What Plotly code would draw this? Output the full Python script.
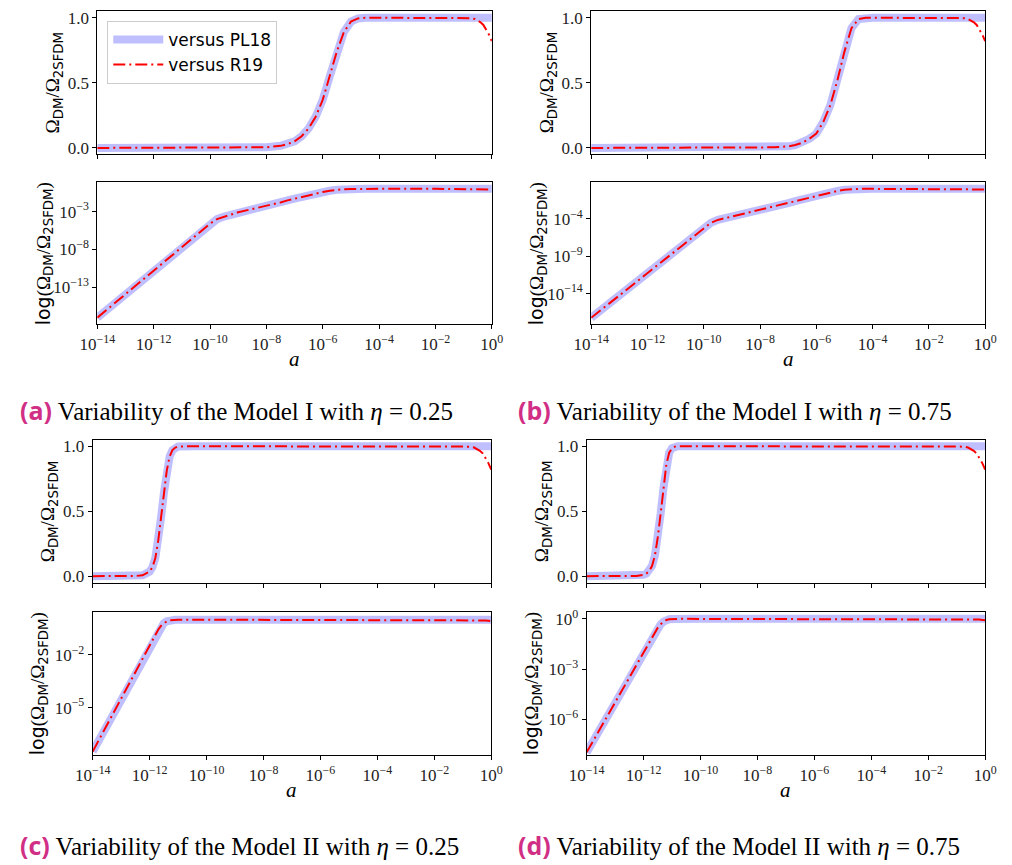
import plotly.graph_objects as go

# ---------------- data ----------------
# log10(a) grid and Omega_DM/Omega_2SFDM for each panel (PL18 reference curve, up to a = 0.1)
log_a_I25 = [-14, -13, -12, -11, -10.5, -10, -9.75, -9.5, -9.25, -9, -8.5, -8, -7.5, -7.25, -7,
             -6.75, -6.5, -6.25, -6, -5.75, -5.5, -5.25, -5, -4.75, -4.5, -4, -3, -2]
ratio_I25 = [1e-17, 1.3e-14, 1.6e-11, 2e-8, 7e-7, 2.5e-5, 1.0e-4, 2.2e-4, 4e-4, 8e-4, 2.2e-3, 5e-3,
             0.016, 0.03, 0.05, 0.09, 0.15, 0.24, 0.37, 0.55, 0.74, 0.89, 0.97, 0.995, 1.0, 1.0, 1.0, 1.0]

log_a_I75 = [-14, -13, -12, -11, -10.5, -10, -9.75, -9.5, -9.25, -9, -8.5, -8, -7.5, -7, -6.75,
             -6.5, -6.25, -6, -5.75, -5.5, -5.25, -5, -4.75, -4.5, -4.25, -4, -3, -2]
ratio_I75 = [6e-18, 6e-15, 6e-12, 6e-9, 2e-7, 6e-6, 2.8e-5, 7e-5, 1.1e-4, 2e-4, 5.6e-4, 1.6e-3,
             4.5e-3, 0.012, 0.022, 0.04, 0.07, 0.11, 0.2, 0.33, 0.52, 0.74, 0.92, 0.99, 1.0, 1.0, 1.0, 1.0]

log_a_II25 = [-14, -13.5, -13, -12.5, -12.25, -12, -11.9, -11.8, -11.7, -11.6, -11.5, -11.4, -11.3,
              -11.2, -11.1, -11, -10.5, -10, -8, -6, -4, -2]
ratio_II25 = [3.2e-8, 1e-6, 3.5e-5, 1.1e-3, 6.3e-3, 0.035, 0.07, 0.14, 0.27, 0.45, 0.64, 0.81, 0.92,
              0.97, 0.99, 0.998, 1.0, 1.0, 1.0, 1.0, 1.0, 1.0]

log_a_II75 = [-14, -13.5, -13, -12.5, -12.25, -12, -11.9, -11.8, -11.7, -11.6, -11.5, -11.4, -11.3,
              -11.2, -11.1, -11, -10.9, -10.8, -10.5, -10, -8, -6, -4, -2]
ratio_II75 = [1.1e-8, 3.5e-7, 1.1e-5, 3.5e-4, 2e-3, 0.01, 0.02, 0.04, 0.08, 0.16, 0.3, 0.48, 0.68,
              0.86, 0.95, 0.985, 0.997, 1.0, 1.0, 1.0, 1.0, 1.0, 1.0, 1.0]

# late-time tail (a from 0.1 to 1), shared by all panels
log_a_tail = [-1, -0.75, -0.6, -0.5, -0.4, -0.3, -0.2, -0.1, 0]
tail_pl18 = [1.0, 1.0, 1.0, 1.0, 1.0, 1.0, 1.0, 1.0, 1.0]
tail_r19 = [1.0, 0.997, 0.99, 0.98, 0.965, 0.945, 0.91, 0.87, 0.82]

series_names = ["versus PL18", "versus R19"]
captions = [("(a)", "Variability of the Model I with <i>η</i> = 0.25"),
            ("(b)", "Variability of the Model I with <i>η</i> = 0.75"),
            ("(c)", "Variability of the Model II with <i>η</i> = 0.25"),
            ("(d)", "Variability of the Model II with <i>η</i> = 0.75")]
x_tick_exps = [-14, -12, -10, -8, -6, -4, -2, 0]
lin_ticks = [0.0, 0.5, 1.0]
log_tick_exps = [[-3, -8, -13], [-4, -9, -14], [-2, -5], [0, -3, -6]]

panels = [(log_a_I25, ratio_I25), (log_a_I75, ratio_I75),
          (log_a_II25, ratio_II25), (log_a_II75, ratio_II75)]

# ---------------- layout geometry ----------------
W, H = 1012, 865
x_px = [(81.7, 488.3), (590.7, 996.7), (77.0, 487.7), (586.0, 996.7)]
row_top_px = [(5.3, 150.0), (438.3, 582.7)]
row_bot_px = [(178.3, 321.7), (612.7, 757.3)]
log_ranges = [[-17.88, 0.84], [-18.1, 0.85], [-7.72, 0.42], [-8.14, 0.39]]

BLUE = "rgb(191,191,255)"
RED = "#ff0000"
RED_DASH = "12px,4px,2px,4px"
SERIF = "Liberation Serif"
SANS = "DejaVu Sans"


def sup_minus(e):
    return "10<sup>" + (("\u2212" + str(-e)) if e < 0 else str(e)) + "</sup>"


fig = go.Figure()
layout = dict(width=W, height=H, autosize=False, margin=dict(l=0, r=0, t=0, b=0),
              paper_bgcolor="white", plot_bgcolor="white", showlegend=True)
annotations = []

axis_common = dict(showline=True, linecolor="black", linewidth=1, mirror=True,
                   ticks="outside", ticklen=4, tickwidth=1, tickcolor="black",
                   showgrid=False, zeroline=False,
                   tickfont=dict(family=SERIF, size=17, color="#222222"))

for p, (la, rv) in enumerate(panels):
    col = p % 2
    row = p // 2
    xa = [10 ** v for v in la + log_a_tail]
    y_pl18 = rv + tail_pl18
    y_r19 = rv + tail_r19
    x0, x1 = x_px[p]
    xdom = [x0 / W, x1 / W]
    for k, (ypix, kind) in enumerate([(row_top_px[row], "lin"), (row_bot_px[row], "log")]):
        idx = p * 2 + k + 1
        xname = "xaxis" if idx == 1 else f"xaxis{idx}"
        yname = "yaxis" if idx == 1 else f"yaxis{idx}"
        xref = "x" if idx == 1 else f"x{idx}"
        yref = "y" if idx == 1 else f"y{idx}"
        ydom = [1 - ypix[1] / H, 1 - ypix[0] / H]
        xaxis = dict(axis_common, domain=xdom, anchor=yref, type="log", range=[-14, 0],
                     tickvals=[10 ** e for e in x_tick_exps],
                     ticktext=[sup_minus(e) for e in x_tick_exps],
                     showticklabels=(kind == "log"))
        if kind == "lin":
            yaxis = dict(axis_common, domain=ydom, anchor=xref, type="linear", range=[-0.05, 1.05],
                         tickvals=lin_ticks, ticktext=[f"{v:.1f}" for v in lin_ticks])
        else:
            yaxis = dict(axis_common, domain=ydom, anchor=xref, type="log", range=log_ranges[p],
                         tickvals=[10 ** e for e in log_tick_exps[p]],
                         ticktext=[sup_minus(e) for e in log_tick_exps[p]])
        layout[xname] = xaxis
        layout[yname] = yaxis
        show_leg = (p == 0 and k == 0)
        fig.add_trace(go.Scatter(x=xa, y=y_pl18, mode="lines", name=series_names[0],
                                 line=dict(color=BLUE, width=8), xaxis=xref, yaxis=yref,
                                 showlegend=show_leg, hoverinfo="skip"))
        fig.add_trace(go.Scatter(x=xa, y=y_r19, mode="lines", name=series_names[1],
                                 line=dict(color=RED, width=2, dash=RED_DASH), xaxis=xref, yaxis=yref,
                                 showlegend=show_leg, hoverinfo="skip"))

        # y-axis title
        ycen = (ypix[0] + ypix[1]) / 2
        om = f'<span style="font-family:{SERIF}">Ω</span>'
        core = f'{om}<sub>DM</sub><span style="font-family:{SERIF}">/</span>{om}<sub>2SFDM</sub>'
        if kind == "lin":
            txt = core
            xt = x0 - 45
        else:
            txt = "log" + f'<span style="font-family:{SERIF}">(</span>' + core + f'<span style="font-family:{SERIF}">)</span>'
            xt = x0 - 55
        annotations.append(dict(text=txt, x=xt / W, y=1 - ycen / H, xref="paper", yref="paper",
                                xanchor="center", yanchor="middle", textangle=-90, showarrow=False,
                                font=dict(family=SANS, size=19, color="black")))
    # x title
    ybot = row_bot_px[row][1]
    annotations.append(dict(text="<i>a</i>", x=(x0 + x1) / 2 / W, y=1 - (ybot + 35) / H,
                            xref="paper", yref="paper", xanchor="center", yanchor="middle",
                            showarrow=False, font=dict(family=SERIF, size=21, color="black")))
    # caption
    lab, cap = captions[p]
    cap_x = 0 if col == 0 else 513
    cap_y = 408 if row == 0 else 848
    annotations.append(dict(
        text=f'<span style="font-family:Open Sans;color:#d12f85"><b>{lab}</b></span> {cap}',
        x=cap_x / W, y=1 - cap_y / H, xref="paper", yref="paper", xanchor="left", yanchor="middle",
        showarrow=False, font=dict(family=SERIF, size=25, color="black")))

layout["annotations"] = annotations
layout["legend"] = dict(x=92 / W, y=1 - 15 / H, xanchor="left", yanchor="top",
                        bgcolor="rgba(255,255,255,0.9)", bordercolor="#cccccc", borderwidth=1,
                        font=dict(family=SANS, size=17, color="black"), itemwidth=50)
fig.update_layout(**layout)
fig.write_html("out.html")
